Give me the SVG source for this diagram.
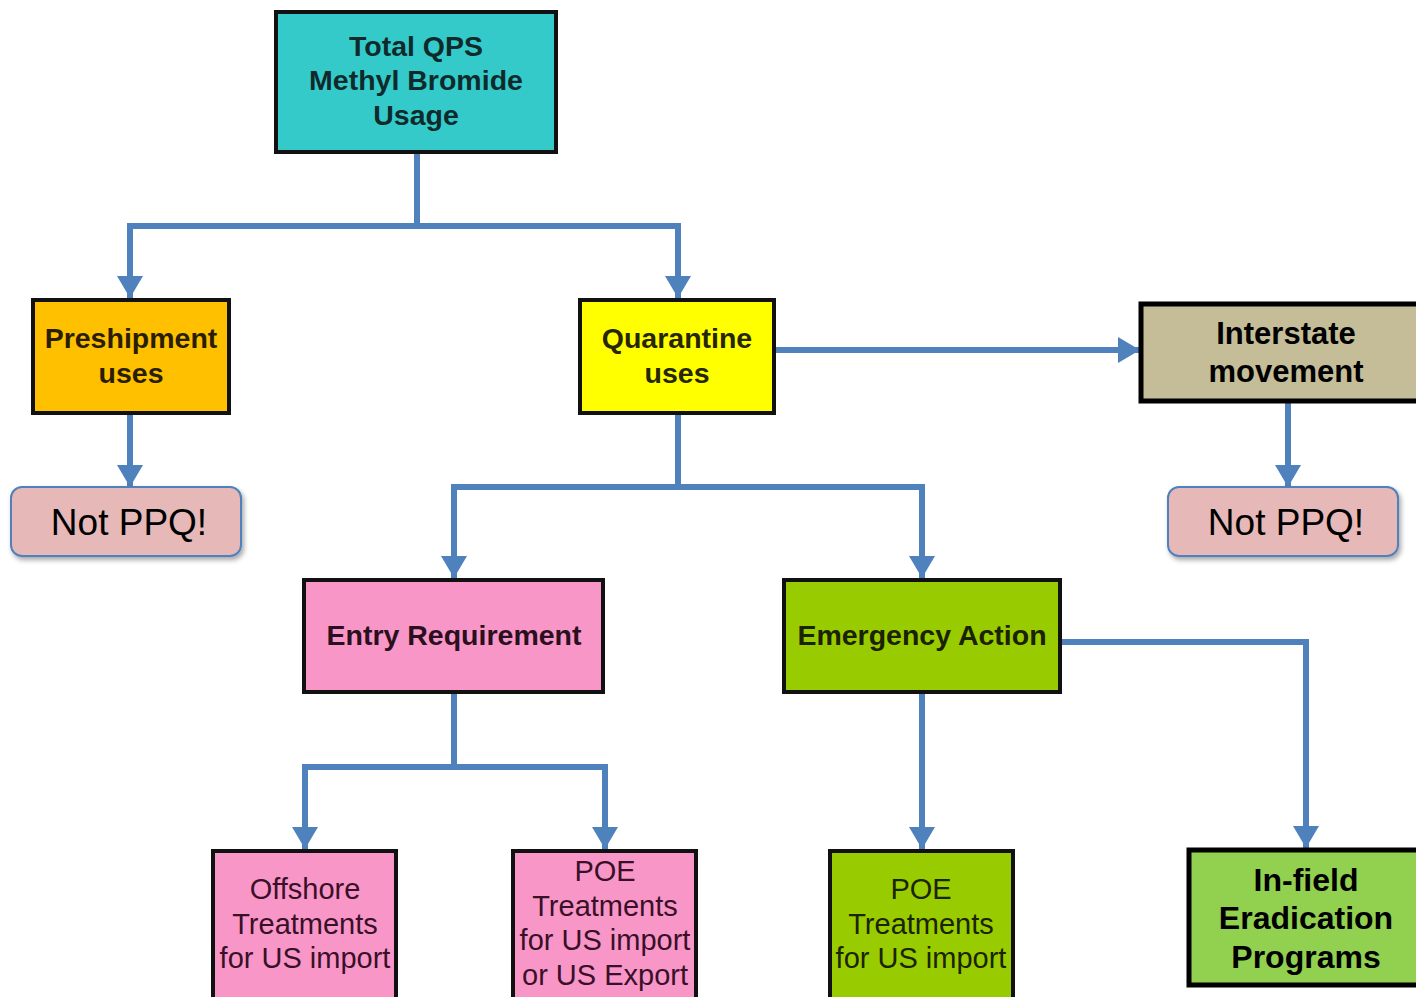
<svg xmlns="http://www.w3.org/2000/svg" width="1416" height="997" viewBox="0 0 1416 997">
<defs>
<marker id="ah" markerUnits="userSpaceOnUse" markerWidth="22" markerHeight="26" refX="22" refY="13" orient="auto">
<path d="M0,0 L22,13 L0,26 z" fill="#4f81bd"/>
</marker>
<filter id="sh" x="-10%" y="-10%" width="125%" height="140%">
<feDropShadow dx="2" dy="3" stdDeviation="2.5" flood-color="#000" flood-opacity="0.35"/>
</filter>
<style>
.box{stroke:#111;stroke-width:4}
.c{fill:none;stroke:#4f81bd;stroke-width:6;marker-end:url(#ah)}
.cn{fill:none;stroke:#4f81bd;stroke-width:6}
.t{font-family:"Liberation Sans",Arial,sans-serif;font-weight:bold;text-anchor:middle}
.r{font-family:"Liberation Sans",Arial,sans-serif;text-anchor:middle;font-size:29px;fill:#3a1028}
.np{fill:#e6b8b7;stroke:#4f81bd;stroke-width:2}
.npt{font-family:"Liberation Sans",Arial,sans-serif;text-anchor:middle;font-size:37px;fill:#000}
</style>
</defs>
<rect width="1416" height="997" fill="#fff"/>
<g id="connectors">
<path class="cn" d="M417,152 V226"/>
<path class="c" d="M417,226 H130 V298"/>
<path class="c" d="M417,226 H678 V298"/>
<path class="c" d="M130,413 V487"/>
<path class="c" d="M774,350 H1140"/>
<path class="c" d="M1288,401 V487"/>
<path class="cn" d="M678,413 V487"/>
<path class="c" d="M678,487 H454 V578"/>
<path class="c" d="M678,487 H922 V578"/>
<path class="cn" d="M454,692 V767"/>
<path class="c" d="M454,767 H305 V849"/>
<path class="c" d="M454,767 H605 V849"/>
<path class="c" d="M922,692 V849"/>
<path class="c" d="M1060,642 H1306 V848"/>
</g>
<g id="total">
<rect class="box" x="276" y="12" width="280" height="140" fill="#35caca"/>
<text class="t" font-size="28.5" fill="#0f2a2a"><tspan x="416" y="56">Total QPS</tspan><tspan x="416" y="90">Methyl Bromide</tspan><tspan x="416" y="125">Usage</tspan></text>
</g>
<g id="preshipment">
<rect class="box" x="33" y="300" width="196" height="113" fill="#ffc000"/>
<text class="t" font-size="28.5" fill="#2a1e00"><tspan x="131" y="348">Preshipment</tspan><tspan x="131" y="383">uses</tspan></text>
</g>
<g id="notppq1">
<rect class="np" x="11" y="487" width="230" height="69" rx="11" filter="url(#sh)"/>
<text class="npt" x="129" y="535">Not PPQ!</text>
</g>
<g id="quarantine">
<rect class="box" x="580" y="300" width="194" height="113" fill="#ffff00"/>
<text class="t" font-size="28.5" fill="#262600"><tspan x="677" y="348">Quarantine</tspan><tspan x="677" y="383">uses</tspan></text>
</g>
<g id="interstate">
<rect x="1141" y="304" width="285" height="97" fill="#c4bd97" stroke="#000" stroke-width="5"/>
<text class="t" font-size="31" fill="#000"><tspan x="1286" y="344">Interstate</tspan><tspan x="1286" y="382">movement</tspan></text>
</g>
<g id="notppq2">
<rect class="np" x="1168" y="487" width="230" height="69" rx="11" filter="url(#sh)"/>
<text class="npt" x="1286" y="535">Not PPQ!</text>
</g>
<g id="entry">
<rect class="box" x="304" y="580" width="299" height="112" fill="#f996c8"/>
<text class="t" font-size="28.5" fill="#2a0f1e" x="454" y="645">Entry Requirement</text>
</g>
<g id="emergency">
<rect class="box" x="784" y="580" width="276" height="112" fill="#99cc00"/>
<text class="t" font-size="28.5" fill="#1a2200" x="922" y="645">Emergency Action</text>
</g>
<g id="offshore">
<rect class="box" x="213" y="851" width="183" height="160" fill="#f996c8"/>
<text class="r"><tspan x="305" y="899">Offshore</tspan><tspan x="305" y="934">Treatments</tspan><tspan x="305" y="968">for US import</tspan></text>
</g>
<g id="poe1">
<rect class="box" x="513" y="851" width="183" height="160" fill="#f996c8"/>
<text class="r"><tspan x="605" y="881">POE</tspan><tspan x="605" y="916">Treatments</tspan><tspan x="605" y="950">for US import</tspan><tspan x="605" y="985">or US Export</tspan></text>
</g>
<g id="poe2">
<rect class="box" x="830" y="851" width="183" height="160" fill="#99cc00"/>
<text class="r" style="fill:#1a2400"><tspan x="921" y="899">POE</tspan><tspan x="921" y="934">Treatments</tspan><tspan x="921" y="968">for US import</tspan></text>
</g>
<g id="infield">
<rect x="1189" y="850" width="240" height="135" fill="#92d050" stroke="#000" stroke-width="5"/>
<text class="t" font-size="32" fill="#000"><tspan x="1306" y="891">In-field</tspan><tspan x="1306" y="929">Eradication</tspan><tspan x="1306" y="968">Programs</tspan></text>
</g>
</svg>
